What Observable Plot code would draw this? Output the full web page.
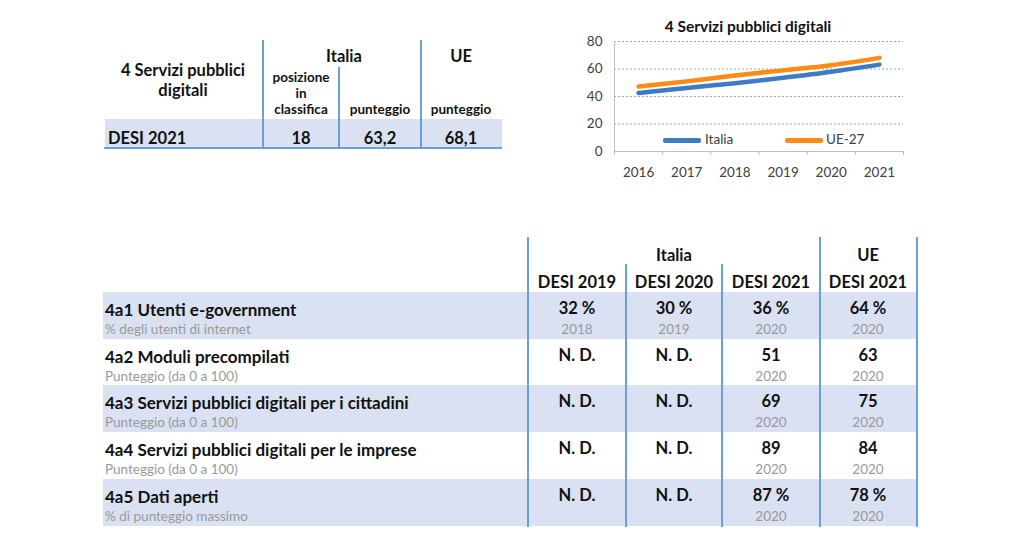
<!DOCTYPE html>
<html><head><meta charset="utf-8">
<script src="https://cdn.jsdelivr.net/npm/d3@7"></script>
<script src="https://cdn.jsdelivr.net/npm/@observablehq/plot@0.6"></script>
<style>
body{margin:0;background:#fff;}
#page{position:relative;width:1024px;height:549px;overflow:hidden;font-family:Lato,"Liberation Sans",sans-serif;}
.t{position:absolute;white-space:nowrap;line-height:1;}
.b{position:absolute;}
</style></head><body><div id="page"></div>
<script>
// ---------- DATA ----------
const years = [2016, 2017, 2018, 2019, 2020, 2021];
const italiaScores = [42.6, 46.2, 49.6, 53.6, 58.0, 63.2];
const ueScores = [47.2, 51.0, 55.3, 59.0, 62.8, 68.1];
const seriesNames = ["Italia", "UE-27"];
const yTicks = [0, 20, 40, 60, 80];
const chartTitle = "4 Servizi pubblici digitali";

const summaryTitle = ["4 Servizi pubblici", "digitali"];
const summaryGroups = ["Italia", "UE"];
const summaryColumns = [["posizione", "in", "classifica"], ["punteggio"], ["punteggio"]];
const summaryRowLabel = "DESI 2021";
const summaryValues = ["18", "63,2", "68,1"];

const indicatorGroups = ["Italia", "UE"];
const indicatorColumns = ["DESI 2019", "DESI 2020", "DESI 2021", "DESI 2021"];
const indicatorNames = ["4a1 Utenti e-government", "4a2 Moduli precompilati", "4a3 Servizi pubblici digitali per i cittadini", "4a4 Servizi pubblici digitali per le imprese", "4a5 Dati aperti"];
const indicatorUnits = ["% degli utenti di internet", "Punteggio (da 0 a 100)", "Punteggio (da 0 a 100)", "Punteggio (da 0 a 100)", "% di punteggio massimo"];
const desi2019 = ["32 %", "N. D.", "N. D.", "N. D.", "N. D."];
const desi2020 = ["30 %", "N. D.", "N. D.", "N. D.", "N. D."];
const desi2021 = ["36 %", "51", "69", "89", "87 %"];
const ue2021 = ["64 %", "63", "75", "84", "78 %"];
const ref2019 = ["2018", "", "", "", ""];
const ref2020 = ["2019", "", "", "", ""];
const ref2021 = ["2020", "2020", "2020", "2020", "2020"];
const refUE = ["2020", "2020", "2020", "2020", "2020"];

// ---------- LAYOUT HELPERS ----------
const page = document.getElementById("page");
const BLUE_LINE = "#6a9fd8", BAND = "#d9e1f2", INK = "#111", GREY = "#9a9a9a";
const BIG = 16.5, SMALL = 13.5, LABEL = 17;
function txt(s, x, y, o = {}) {
  const d = document.createElement("div");
  d.className = "t"; d.textContent = s;
  d.style.left = x + "px"; d.style.top = y + "px";
  const ax = o.anchor === "start" ? "0" : o.anchor === "end" ? "-100%" : "-50%";
  d.style.transform = `translate(${ax},-50%)`;
  d.style.fontSize = (o.size || BIG) + "px";
  d.style.fontWeight = o.bold ? "700" : "400";
  d.style.color = o.color || INK;
  page.appendChild(d);
}
function box(x, y, w, h, c, r) {
  const d = document.createElement("div");
  d.className = "b";
  Object.assign(d.style, {left: x + "px", top: y + "px", width: w + "px", height: h + "px", background: c});
  if (r) d.style.borderRadius = r + "px";
  page.appendChild(d);
}

// ---------- TOP SUMMARY TABLE ----------
box(105, 119, 397, 28, BAND);
box(104, 147, 398, 2, BLUE_LINE);
[[262, 40], [338, 67], [420, 40]].forEach(([x, y0]) => box(x, y0, 2, 149 - y0, BLUE_LINE));
txt(summaryTitle[0], 183, 70, {bold: true});
txt(summaryTitle[1], 183, 90, {bold: true});
txt(summaryGroups[0], 344, 56, {bold: true});
txt(summaryGroups[1], 461, 56, {bold: true});
const sumColX = [301, 380, 461];
summaryColumns[0].forEach((s, i) => txt(s, sumColX[0], 78 + i * 16, {bold: true, size: SMALL}));
txt(summaryColumns[1][0], sumColX[1], 110, {bold: true, size: SMALL});
txt(summaryColumns[2][0], sumColX[2], 110, {bold: true, size: SMALL});
txt(summaryRowLabel, 108, 138, {bold: true, anchor: "start"});
summaryValues.forEach((v, i) => txt(v, sumColX[i], 138, {bold: true}));

// ---------- LOWER INDICATOR TABLE ----------
const rowTops = [292, 339, 385, 432, 479];
rowTops.forEach((t, i) => { if (i % 2 === 0) box(103, t, 814, i === 4 ? 47 : 46.5, BAND); });
[[527, 237], [625, 264], [721, 264], [819, 237], [916, 237]].forEach(([x, y0]) => box(x, y0, 2, 527 - y0, BLUE_LINE));
const colX = [577, 674, 771, 868];
txt(indicatorGroups[0], 674, 255, {bold: true});
txt(indicatorGroups[1], 868, 255, {bold: true});
indicatorColumns.forEach((c, i) => txt(c, colX[i], 282, {bold: true}));
const valueCols = [desi2019, desi2020, desi2021, ue2021];
const refCols = [ref2019, ref2020, ref2021, refUE];
indicatorNames.forEach((n, r) => {
  const t = rowTops[r];
  txt(n, 105, t + 17, {bold: true, anchor: "start", size: LABEL});
  txt(indicatorUnits[r], 105, t + 38, {size: SMALL, color: GREY, anchor: "start"});
  valueCols.forEach((col, c) => {
    txt(col[r], colX[c], t + 16, {bold: true});
    if (refCols[c][r]) txt(refCols[c][r], colX[c], t + 38, {size: SMALL, color: GREY});
  });
});

// ---------- LINE CHART ----------
txt(chartTitle, 748, 27, {bold: true, size: 15.5});
const data = years.flatMap((yr, i) => [
  {year: yr, value: italiaScores[i], series: seriesNames[0]},
  {year: yr, value: ueScores[i], series: seriesNames[1]}
]);
const boundaries = years.map(y => y - 0.5).concat([years[years.length - 1] + 0.5]);
const colors = ["#3d7cc4", "#ff8a14"];
const chart = Plot.plot({
  width: 360, height: 155,
  marginLeft: 54, marginRight: 17, marginTop: 11, marginBottom: 34,
  style: {fontFamily: "Lato, sans-serif", fontSize: "13.5px", color: "#404040", background: "transparent", overflow: "visible"},
  x: {type: "linear", domain: [boundaries[0], boundaries[boundaries.length - 1]], ticks: years, tickFormat: d => String(d), tickSize: 0, tickPadding: 16, label: null},
  y: {domain: [0, 80], ticks: yTicks, tickSize: 0, tickPadding: 12, label: null},
  color: {domain: seriesNames, range: colors},
  marks: [
    Plot.ruleY(yTicks.filter(d => d > 0), {stroke: "#a6a6a6", strokeDasharray: "2,2"}),
    Plot.ruleX(boundaries, {y1: 0, y2: 0, insetBottom: -4, stroke: "#bfbfbf"}),
    Plot.ruleX([boundaries[0]], {stroke: "#bfbfbf"}),
    Plot.ruleY([0], {stroke: "#bfbfbf"}),
    Plot.line(data, {x: "year", y: "value", z: "series", stroke: "series", strokeWidth: 4.5, curve: "catmull-rom", strokeLinecap: "round"})
  ]
});
const wrap = document.createElement("div");
Object.assign(wrap.style, {position: "absolute", left: "560px", top: "30px"});
wrap.appendChild(chart);
page.appendChild(wrap);
// legend
const legendX = [[663, 705], [785, 826]];
seriesNames.forEach((s, i) => {
  box(legendX[i][0], 138, 38, 4.5, colors[i], 2);
  txt(s, legendX[i][1], 140, {size: 13.5, color: "#404040", anchor: "start"});
});
</script></body></html>
